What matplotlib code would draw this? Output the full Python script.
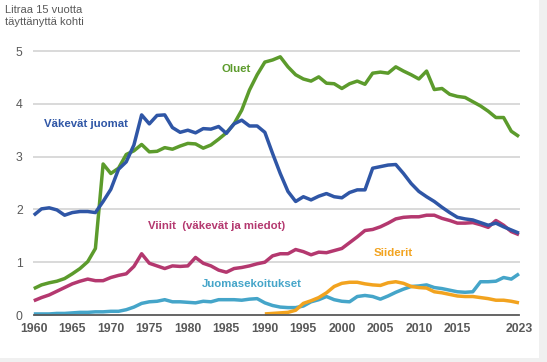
import matplotlib
matplotlib.use("Agg")
import matplotlib.pyplot as plt
from matplotlib.patches import Rectangle
import numpy as np

plt.rcParams['font.family'] = ['Liberation Sans', 'DejaVu Sans']

years = list(range(1960, 2024))

oluet = [0.50, 0.57, 0.61, 0.64, 0.69, 0.78, 0.88, 1.01, 1.26, 2.86,
         2.68, 2.78, 3.04, 3.11, 3.23, 3.09, 3.10, 3.17, 3.14, 3.20,
         3.25, 3.24, 3.16, 3.22, 3.33, 3.45, 3.62, 3.88, 4.26, 4.55,
         4.79, 4.83, 4.89, 4.70, 4.55, 4.47, 4.43, 4.51, 4.39, 4.38,
         4.29, 4.38, 4.43, 4.37, 4.58, 4.60, 4.58, 4.70, 4.62, 4.55,
         4.47, 4.62, 4.27, 4.29, 4.18, 4.14, 4.12, 4.04, 3.96, 3.86,
         3.74, 3.74, 3.48, 3.38]

vakevat = [1.89, 2.01, 2.03, 1.99, 1.89, 1.94, 1.96, 1.96, 1.94, 2.15,
           2.38, 2.76, 2.90, 3.22, 3.79, 3.62, 3.78, 3.79, 3.55, 3.46,
           3.50, 3.45, 3.53, 3.52, 3.57, 3.44, 3.62, 3.69, 3.58, 3.58,
           3.46, 3.06, 2.68, 2.34, 2.15, 2.24, 2.18, 2.25, 2.30, 2.24,
           2.22, 2.32, 2.37, 2.37, 2.78, 2.81, 2.84, 2.85, 2.68, 2.49,
           2.34, 2.24, 2.15, 2.04, 1.94, 1.85, 1.82, 1.80, 1.75, 1.70,
           1.74, 1.67, 1.61, 1.55]

viinit = [0.27, 0.33, 0.38, 0.45, 0.52, 0.59, 0.64, 0.68, 0.65, 0.65,
          0.71, 0.75, 0.78, 0.92, 1.16, 0.98, 0.93, 0.88, 0.93, 0.92,
          0.93, 1.09, 0.98, 0.93, 0.85, 0.81, 0.88, 0.90, 0.93, 0.97,
          1.00, 1.12, 1.16, 1.16, 1.24, 1.20, 1.14, 1.19, 1.18, 1.22,
          1.26, 1.37, 1.48, 1.60, 1.62, 1.67, 1.74, 1.82, 1.85, 1.86,
          1.86, 1.89, 1.89, 1.83, 1.79, 1.74, 1.74, 1.75, 1.71, 1.66,
          1.79, 1.70, 1.58, 1.52]

siider_years = list(range(1990, 2024))
siiderit = [0.02, 0.03, 0.04, 0.05, 0.09, 0.22, 0.27, 0.33, 0.42, 0.54,
            0.60, 0.62, 0.62, 0.59, 0.57, 0.56, 0.61, 0.63, 0.60, 0.54,
            0.52, 0.51, 0.44, 0.42, 0.39, 0.36, 0.35, 0.35, 0.33, 0.31,
            0.28, 0.28, 0.26, 0.23]

juomasek = [0.02, 0.02, 0.02, 0.03, 0.03, 0.04, 0.05, 0.05, 0.06, 0.06,
            0.07, 0.07, 0.10, 0.15, 0.22, 0.25, 0.26, 0.29, 0.25, 0.25,
            0.24, 0.23, 0.26, 0.25, 0.29, 0.29, 0.29, 0.28, 0.30, 0.31,
            0.23, 0.18, 0.15, 0.14, 0.14, 0.17, 0.25, 0.29, 0.35, 0.29,
            0.26, 0.25, 0.35, 0.37, 0.35, 0.30, 0.36, 0.43, 0.49, 0.54,
            0.55, 0.57, 0.52, 0.50, 0.47, 0.44, 0.43, 0.44, 0.63, 0.63,
            0.64, 0.71, 0.68, 0.78]

xtick_vals = [1960, 1965, 1970, 1975, 1980, 1985, 1990, 1995, 2000, 2005, 2010, 2015, 2023]
ytick_vals = [0, 1, 2, 3, 4, 5]

c_green = '#5c9b2c'
c_blue = '#2f56a6'
c_mag = '#b4386f'
c_orange = '#f2a31f'
c_teal = '#45a5c9'

W, H = 547, 362
fig = plt.figure(figsize=(W / 100, H / 100), dpi=100)
fig.patch.set_facecolor('white')
# light gray screenshot edges
fig.patches.append(Rectangle((539 / W, 0), 1 - 539 / W, 1, transform=fig.transFigure,
                             facecolor='#f0f0f0', edgecolor='none', zorder=0))
fig.patches.append(Rectangle((0, 0), 1, 4 / H, transform=fig.transFigure,
                             facecolor='#f0f0f0', edgecolor='none', zorder=0))

left, right = 33.8 / W, 519 / W
bottom, top = 1 - 315 / H, 1 - 51 / H
ax = fig.add_axes([left, bottom, right - left, top - bottom])
ax.set_facecolor('none')

ax.set_xlim(1960, 2023)
ax.set_ylim(0, 5)

for v in ytick_vals[1:]:
    ax.axhline(v, color='#d9d9d9', lw=1.4, zorder=1, clip_on=False)
ax.axhline(0, color='#595959', lw=1.3, zorder=6, clip_on=False)

lw = 2.5
ax.plot(years, juomasek, color=c_teal, lw=lw, zorder=3, clip_on=False, solid_capstyle='butt')
ax.plot(siider_years, siiderit, color=c_orange, lw=lw, zorder=3, clip_on=False, solid_capstyle='butt')
ax.plot(years, viinit, color=c_mag, lw=lw, zorder=4, clip_on=False, solid_capstyle='butt')
ax.plot(years, vakevat, color=c_blue, lw=lw, zorder=5, clip_on=False, solid_capstyle='butt')
ax.plot(years, oluet, color=c_green, lw=lw, zorder=4, clip_on=False, solid_capstyle='butt')

for s in ax.spines.values():
    s.set_visible(False)

ax.set_xticks(xtick_vals)
ax.set_xticklabels([str(v) for v in xtick_vals], fontsize=8.8, fontweight='bold', color='#595959')
ax.set_yticks(ytick_vals)
ax.set_yticklabels([str(v) for v in ytick_vals], fontsize=8.8, color='#595959')
ax.tick_params(axis='both', length=0)
ax.tick_params(axis='x', pad=5.5)
ax.tick_params(axis='y', pad=8)

lab = dict(fontsize=8.2, fontweight='bold', ha='center', va='center')
ax.text(1986.3, 4.66, 'Oluet', color=c_green, **lab)
ax.text(1966.8, 3.62, 'Väkevät juomat', color=c_blue, **lab)
ax.text(1983.8, 1.69, 'Viinit  (väkevät ja miedot)', color=c_mag, **lab)
ax.text(2006.7, 1.17, 'Siiderit', color=c_orange, **lab)
ax.text(1988.3, 0.59, 'Juomasekoitukset', color=c_teal, **lab)

fig.text(5 / W, 1 - 5 / H, 'Litraa 15 vuotta\ntäyttänyttä kohti', ha='left', va='top',
         fontsize=8.0, color='#595959', linespacing=1.2)

fig.savefig('out.png', dpi=100)
